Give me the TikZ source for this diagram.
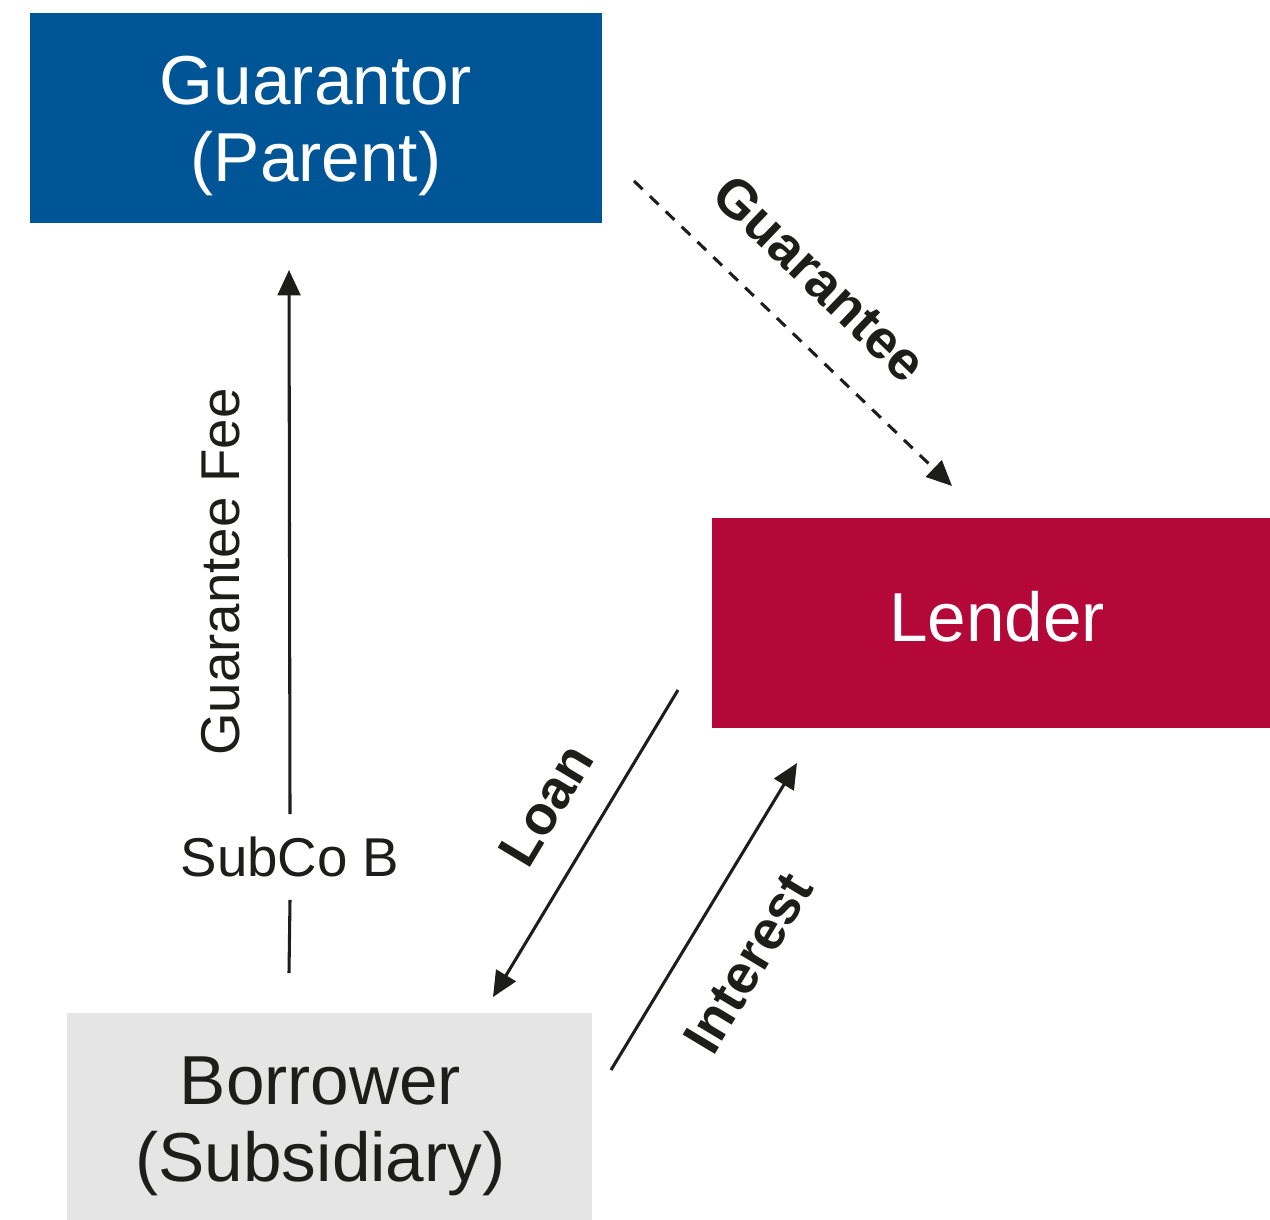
\documentclass[tikz,border=0pt]{standalone}
\usepackage{fontspec}
\setmainfont{Liberation Sans}
\usetikzlibrary{arrows.meta}
\definecolor{parentblue}{HTML}{005596}
\definecolor{lenderred}{HTML}{B30838}
\definecolor{subgrey}{HTML}{E5E5E5}
\definecolor{ink}{HTML}{1D1D1B}
\tikzset{
  party/.style={minimum width=#1, inner sep=0pt},
  partytext/.style={inner sep=0pt, align=center,
    font=\fontsize{52}{58}\selectfont},
  flow/.style={draw=ink, line width=2.3pt,
    -{Triangle[length=19pt,width=17pt]}},
  plainline/.style={draw=ink, line width=2.3pt},
  flowlabel/.style={text=ink, inner sep=0pt,
    font=\fontsize{41}{46}\selectfont\bfseries},
  sidelabel/.style={text=ink, inner sep=0pt,
    font=\fontsize{41}{46}\selectfont},
}
\begin{document}
\begin{tikzpicture}[x=0.75pt, y=-0.75pt]
  \useasboundingbox (0,0) rectangle (1270,1220);

  % the three parties
  \node[party=429pt, minimum height=157.5pt, fill=parentblue]
    (guarantor) at (316,118) {};
  \node[partytext, text=white] (guarantor-name) at (316,126)
    {Guarantor\\(Parent)};
  \node[party=418.5pt, minimum height=157.5pt, fill=lenderred]
    (lender) at (991,623) {};
  \node[partytext, text=white] (lender-name) at (997,617) {Lender};
  \node[party=393.75pt, minimum height=155.25pt, fill=subgrey]
    (borrower) at (329.5,1116.5) {};
  \node[partytext, text=ink] (borrower-name) at (320.5,1126.5)
    {Borrower\\(Subsidiary)};

  % free ends of the connectors
  \coordinate (gS) at (634,181);
  \coordinate (gE) at (952,486);
  \coordinate (lS) at (678,690);
  \coordinate (lE) at (493,997);
  \coordinate (iS) at (611,1070);
  \coordinate (iE) at (797,763);
  \coordinate (fS) at (289,973);
  \coordinate (fE) at (289,270);

  % guarantee fee paid up through SubCo B
  \node[sidelabel, minimum height=64pt] (subco) at (290,857) {SubCo B};
  \draw[plainline] (fS) -- (subco.south);
  \draw[flow] (subco.north) -- (fE);
  \node[sidelabel, rotate=90] (feelabel) at (221,572) {Guarantee Fee};

  % guarantee given to the lender
  \draw[flow, dash pattern=on 9pt off 7.5pt] (gS) -- (gE);
  \node[flowlabel, rotate=-43.8] (glabel) at (820,278) {Guarantee};

  % loan and interest
  \draw[flow] (lS) -- (lE);
  \node[flowlabel, rotate=59] (loanlabel) at (546,805) {Loan};
  \draw[flow] (iS) -- (iE);
  \node[flowlabel, rotate=59] (intlabel) at (748,963) {Interest};
\end{tikzpicture}
\end{document}
